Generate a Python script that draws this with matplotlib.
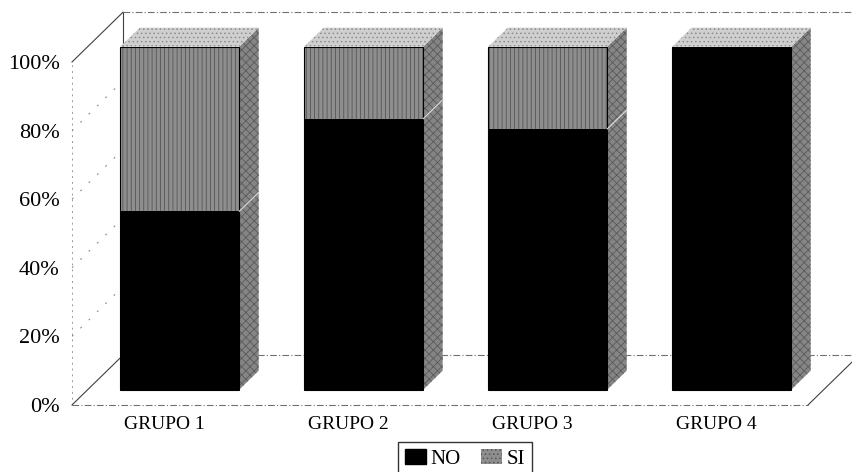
import numpy as np
import matplotlib.pyplot as plt
from matplotlib.patches import Polygon, Patch

plt.rcParams['font.family'] = ['Liberation Serif', 'DejaVu Serif']
plt.rcParams['hatch.linewidth'] = 0.6

grupos = ['GRUPO 1', 'GRUPO 2', 'GRUPO 3', 'GRUPO 4']
no_pct = [52, 79, 76, 100]
si_pct = [48, 21, 24, 0]
yticks = [0, 20, 40, 60, 80, 100]
ytick_labels = ['0%', '20%', '40%', '60%', '80%', '100%']

# oblique projection: full wall depth in axis units (x: categories, y: percent)
DX = 0.277
DY = 14.5
bar_w = 0.647
d_front = 0.31   # bar front face, as fraction of wall depth
d_back = 0.69    # bar back face

def off(d):
    return d * DX, d * DY

fig = plt.figure(figsize=(8.52, 4.72), dpi=100)
ax = fig.add_axes([72 / 852, 67 / 472, 736 / 852, 343 / 472])
ax.set_xlim(0, len(grupos))
ax.set_ylim(0, 100)
for s in ax.spines.values():
    s.set_visible(False)

n = len(grupos)
wx, wy = off(1.0)

# walls and floor
ax.plot([0, 0], [0, 100], color='#9a9a9a', lw=0.7, ls=(0, (2, 4)), clip_on=False)
ax.plot([0, wx], [100, 100 + wy], color='#404040', lw=0.8, clip_on=False)
ax.plot([0, wx], [0, wy], color='#404040', lw=0.8, clip_on=False)
ax.plot([wx, wx], [wy, 100 + wy], color='#404040', lw=0.8, clip_on=False)
ax.plot([wx, n + wx], [100 + wy, 100 + wy], color='#707070', lw=0.8,
        ls=(0, (6, 2, 1, 2)), clip_on=False)
ax.plot([wx, n + wx], [wy, wy], color='#707070', lw=0.8,
        ls=(0, (6, 2, 1, 2)), clip_on=False)
ax.plot([0, n], [0, 0], color='#707070', lw=0.8,
        ls=(0, (6, 2, 1, 2)), clip_on=False)
ax.plot([n, n + wx], [0, wy], color='#404040', lw=0.8, clip_on=False)

# gridlines on the side wall
for t in yticks[1:-1]:
    ax.plot([0, wx], [t, t + wy], color='#808080', lw=0.7,
            ls=(0, (2, 10)), clip_on=False)

# bars
fx, fy = off(d_front)
bx, by = off(d_back)
for i in range(n):
    x0 = i + (1 - bar_w) / 2 + fx
    x1 = x0 + bar_w
    segs = [(0, no_pct[i], 'black', None), (no_pct[i], no_pct[i] + si_pct[i], '#8e8e8e', '||||')]
    for lo, hi, col, hat in segs:
        if hi <= lo:
            continue
        ax.add_patch(Polygon([(x0, lo + fy), (x1, lo + fy), (x1, hi + fy), (x0, hi + fy)],
                             closed=True, facecolor=col, edgecolor='#555555' if hat else 'black',
                             hatch=hat, lw=0, clip_on=False, zorder=3))
    top = no_pct[i] + si_pct[i]
    ddx, ddy = bx - fx, by - fy
    # right side face
    ax.add_patch(Polygon([(x1, fy), (x1 + ddx, fy + ddy), (x1 + ddx, top + fy + ddy), (x1, top + fy)],
                         closed=True, facecolor='#858585', edgecolor='#5a5a5a', hatch='xxxx',
                         lw=0, clip_on=False, zorder=3))
    # top face
    ax.add_patch(Polygon([(x0, top + fy), (x1, top + fy), (x1 + ddx, top + fy + ddy), (x0 + ddx, top + fy + ddy)],
                         closed=True, facecolor='#cfcfcf', edgecolor='#8c8c8c', hatch='....',
                         lw=0, clip_on=False, zorder=3))
    # outline of the front face
    ax.add_patch(Polygon([(x0, fy), (x1, fy), (x1, top + fy), (x0, top + fy)],
                         closed=True, fill=False, edgecolor='black', lw=0.8,
                         clip_on=False, zorder=4))
    # faint line where the two series meet on the side
    if 0 < si_pct[i] and no_pct[i] > 0:
        ax.plot([x1, x1 + ddx], [no_pct[i] + fy, no_pct[i] + fy + ddy],
                color='#e0e0e0', lw=0.8, clip_on=False, zorder=4)

ax.set_yticks(yticks)
ax.set_yticklabels(ytick_labels, fontsize=16)
ax.set_xticks(np.arange(n) + 0.5)
ax.set_xticklabels(grupos, fontsize=14)
ax.tick_params(axis='y', length=0, pad=9)
ax.tick_params(axis='x', length=0, pad=8)

handles = [Patch(facecolor='black', edgecolor='black', label='NO'),
           Patch(facecolor='#8e8e8e', edgecolor='#555555', hatch='....', lw=0, label='SI')]
fig.legend(handles=handles, loc='upper center', bbox_to_anchor=(465 / 852, 1 - 442 / 472),
           ncol=2, fontsize=15, frameon=True, fancybox=False, edgecolor='black',
           handlelength=1.0, handleheight=0.7, handletextpad=0.2, columnspacing=1.0,
           borderpad=0.35, borderaxespad=0)

fig.savefig('out.png', dpi=100)
